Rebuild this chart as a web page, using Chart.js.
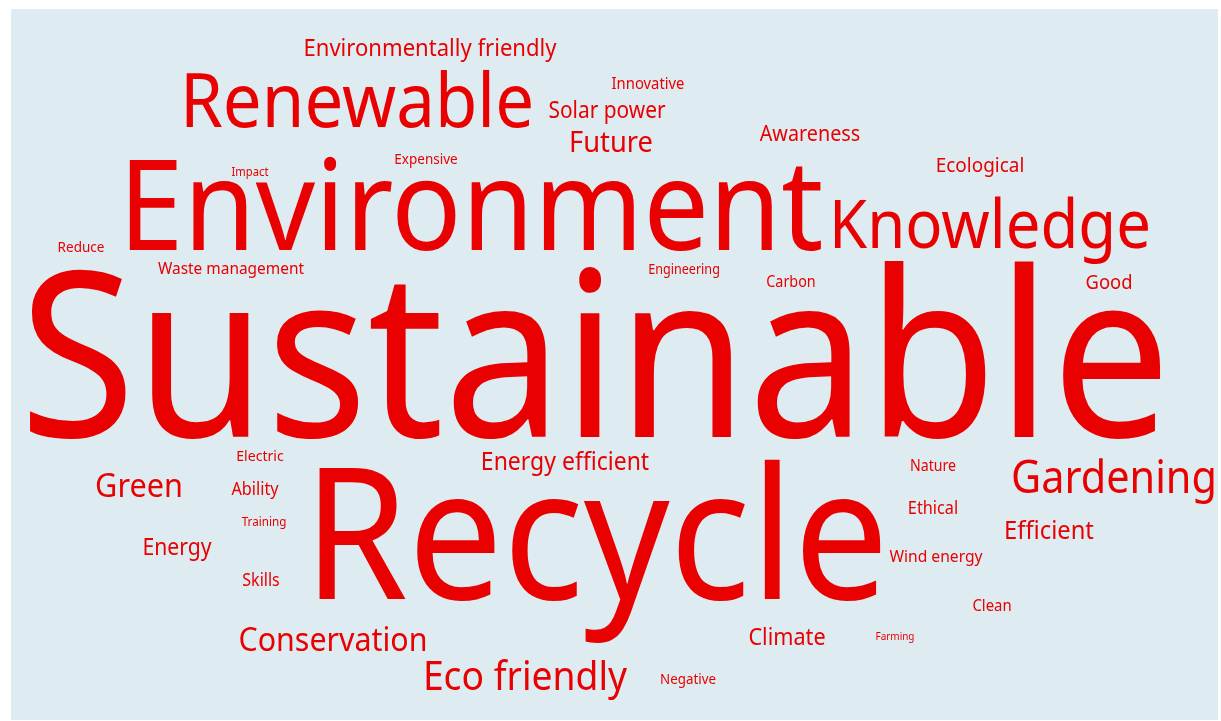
<!DOCTYPE html>
<html>
<head>
<meta charset="utf-8">
<title>Word cloud</title>
<script src="https://cdn.jsdelivr.net/npm/chart.js@4"></script>
<style>
  html, body { margin:0; padding:0; background:#fff; }
  #wrap { width:1221px; height:721px; }
</style>
</head>
<body>
<div id="wrap"><canvas id="cloud" width="1221" height="721"></canvas></div>
<script>
// words of the cloud and their weight (font size, px)
const words = ['Sustainable','Recycle','Environment','Renewable','Knowledge','Gardening','Eco friendly',
  'Conservation','Green','Energy efficient','Future','Environmentally friendly','Solar power','Efficient',
  'Energy','Climate','Awareness','Ecological','Good','Waste management','Innovative','Wind energy','Ethical',
  'Nature','Clean','Ability','Electric','Skills','Negative','Reduce','Carbon','Expensive','Engineering',
  'Training','Impact','Farming'];
const weights = [230,183,127,75,67,45,40.5,33,33.3,25,29.7,24,22.7,25.8,23,23.5,21.5,20.6,20,16.8,16.1,17,17.7,15.4,16.2,17.7,15.3,17.4,14.5,14.7,15.6,14.7,13.7,12.7,12.2,10.8];
// word centres (x) and baselines (y) in cloud units
const xPos = [595,596,471,357,990,1114,525,333,139,565,611,430,607,1049,177,787,810,980,1109,231,648,936,933,933,992,255,260,261,688,81,791,426,684,264,250,895];
const yPos = [437,599,250,127,248,493,690,651,497,470,152,56,118,539,555,645,141,172,289,274,89,562,514,471,611,495,461,586,684,252,287,164,274,526,176,640];

const RED = '#e90000';
const PANEL = '#deebf1';
const FONT = '"Noto Sans", "Open Sans", sans-serif';
const CONDENSE = 0.92; // the original face is narrower than Noto Sans

const points = words.map((w, i) => ({ x: xPos[i], y: yPos[i] }));

// light blue panel behind the words
const panelPlugin = {
  id: 'panel',
  beforeDraw(chart){
    const { ctx, scales:{x, y} } = chart;
    const l = x.getPixelForValue(11), r = x.getPixelForValue(1218);
    const t = y.getPixelForValue(9), b = y.getPixelForValue(720);
    ctx.save();
    ctx.fillStyle = PANEL;
    ctx.fillRect(l, t, r - l, b - t);
    ctx.restore();
  }
};

// draw each word at its point
const wordPlugin = {
  id: 'words',
  afterDatasetsDraw(chart){
    const ctx = chart.ctx;
    const meta = chart.getDatasetMeta(0);
    meta.data.forEach((pt, i) => {
      ctx.save();
      ctx.fillStyle = RED;
      ctx.textAlign = 'center';
      ctx.textBaseline = 'alphabetic';
      ctx.font = weights[i] + 'px ' + FONT;
      ctx.translate(pt.x, pt.y);
      ctx.scale(CONDENSE, 1);
      ctx.fillText(words[i], 0, 0);
      ctx.restore();
    });
  }
};

new Chart(document.getElementById('cloud').getContext('2d'), {
  type: 'scatter',
  data: {
    datasets: [{ data: points, pointRadius: 0, pointHoverRadius: 0 }]
  },
  options: {
    responsive: false,
    animation: false,
    events: [],
    layout: { padding: 0 },
    plugins: { legend: { display: false }, tooltip: { enabled: false } },
    scales: {
      x: { type: 'linear', min: 0, max: 1221, display: false },
      y: { type: 'linear', min: 0, max: 721, reverse: true, display: false }
    }
  },
  plugins: [panelPlugin, wordPlugin]
});
</script>
</body>
</html>
